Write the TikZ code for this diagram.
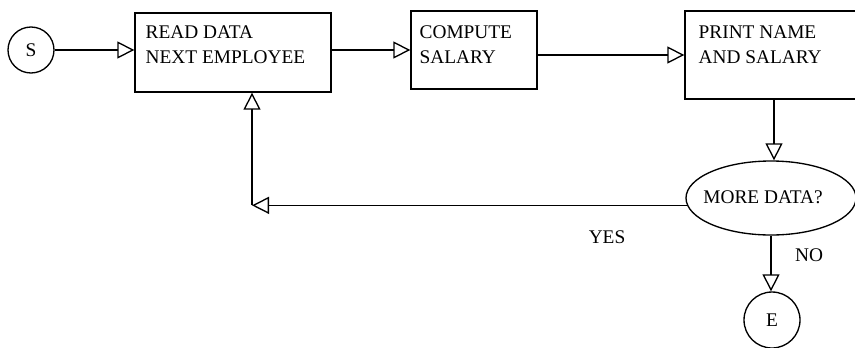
\documentclass[tikz,border=0pt]{standalone}
\usepackage{fontspec}
\setmainfont{Liberation Serif}
\usetikzlibrary{arrows.meta,shapes.geometric}
\begin{document}
\begin{tikzpicture}[x=0.75pt,y=-0.75pt,
  line width=1pt,
  box/.style={draw,rectangle,inner sep=0pt},
  txt/.style={inner sep=0pt,anchor=north west,align=left,font=\fontsize{14.5}{18.5}\selectfont},
  lbl/.style={inner sep=0pt,font=\fontsize{14.5}{18.5}\selectfont},
  term/.style={draw,circle,inner sep=0pt,font=\fontsize{14.5}{18.5}\selectfont},
  arr/.style={-{Triangle[open,length=12.75pt,width=12.75pt]}}]
\useasboundingbox (0,0) rectangle (855,347);
\clip (0,0) rectangle (855,347);
% terminals
\node[term,minimum size=34.5pt] (S) at (31,50) {S};
\node[term,minimum size=42pt] (E) at (772,320) {E};
% boxes
\node[box,minimum width=147pt,minimum height=59.25pt] (read) at (233,52.5) {};
\node[box,minimum width=94.5pt,minimum height=58.5pt] (compute) at (474,50) {};
\node[box,minimum width=133.5pt,minimum height=66pt] (print) at (774,55) {};
\node[draw,ellipse,inner sep=0pt,minimum width=127.5pt,minimum height=55.5pt] (dec) at (771,198) {};
% texts
\node[txt] (readt) at (145,25) {READ DATA\\NEXT EMPLOYEE};
\node[txt] (computet) at (419,25) {COMPUTE\\SALARY};
\node[txt] (printt) at (698,25) {PRINT NAME\\AND SALARY};
\node[lbl] (dect) at (763,197) {MORE DATA?};
\node[lbl] (yes) at (607,237) {YES};
\node[lbl] (no) at (809,255) {NO};
% connectors
\coordinate (corner) at (252,205);
\draw[arr] (S.east) -- (read.west |- S);
\draw[arr] (read.east |- S) -- (compute.west |- S);
\draw[arr] (compute.east |- print) -- (print.west);
\draw[arr] (print.south) -- (print.south |- dec.north);
\draw[arr] (dec.185) -- (dec.185 -| corner);
\draw[arr] (dec.185 -| corner) -- (read.south -| corner);
\draw[arr] (dec.south) -- (dec.south |- E.north);
\end{tikzpicture}
\end{document}
